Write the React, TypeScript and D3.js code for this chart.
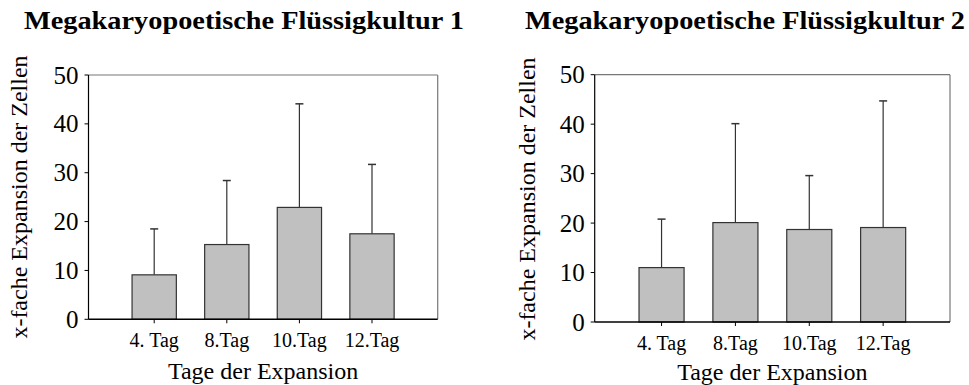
import React from "react";
import * as d3 from "d3";

const categories = ["4. Tag", "8.Tag", "10.Tag", "12.Tag"];
const titles = ["Megakaryopoetische Flüssigkultur 1", "Megakaryopoetische Flüssigkultur 2"];
const means1 = [9.1, 15.3, 22.9, 17.5];
const upper1 = [18.5, 28.4, 44.1, 31.7];
const means2 = [11.0, 20.1, 18.7, 19.1];
const upper2 = [20.8, 40.1, 29.6, 44.7];
const yTicks = [0, 10, 20, 30, 40, 50];
const yLabel = "x-fache Expansion der Zellen";
const xLabel = "Tage der Expansion";

const W = 969;
const H = 385;
const FONT = "'Liberation Serif', 'Times New Roman', serif";

type PanelProps = {
  title: string;
  means: number[];
  upper: number[];
  x0: number;
  x1: number;
  yTop: number;
  yBottom: number;
  titleX: number;
  yLabelX: number;
  yLabelY: number;
  tickLabelBase: number;
  xLabelBase: number;
};

function Panel(p: PanelProps) {
  const x = d3
    .scaleBand<string>()
    .domain(categories)
    .range([p.x0, p.x1])
    .paddingInner(0.39)
    .paddingOuter(0.6);
  const y = d3.scaleLinear().domain([0, 50]).range([p.yBottom, p.yTop]);
  const bw = x.bandwidth();
  return (
    <g>
      <text
        x={p.titleX}
        y={28.5}
        textAnchor="middle"
        fontFamily={FONT}
        fontWeight="bold"
        fontSize={25}
        textLength={440}
        lengthAdjust="spacingAndGlyphs"
        fill="#000"
      >
        {p.title}
      </text>
      {/* frame top/right */}
      <line x1={p.x0} x2={p.x1} y1={p.yTop} y2={p.yTop} stroke="#777" strokeWidth={1.2} />
      <line x1={p.x1} x2={p.x1} y1={p.yTop} y2={p.yBottom} stroke="#777" strokeWidth={1.2} />
      {/* bars */}
      {categories.map((c, i) => {
        const cx = (x(c) as number) + bw / 2;
        return (
          <g key={c}>
            <line x1={cx} x2={cx} y1={y(p.means[i])} y2={y(p.upper[i])} stroke="#333" strokeWidth={1.2} />
            <line x1={cx - 4} x2={cx + 4} y1={y(p.upper[i])} y2={y(p.upper[i])} stroke="#333" strokeWidth={1.5} />
            <rect
              x={x(c)}
              y={y(p.means[i])}
              width={bw}
              height={p.yBottom - y(p.means[i])}
              fill="#c0c0c0"
              stroke="#333"
              strokeWidth={1.2}
            />
            <line x1={cx} x2={cx} y1={p.yBottom} y2={p.yBottom + 4} stroke="#000" strokeWidth={1} />
            <text
              x={cx}
              y={p.tickLabelBase}
              textAnchor="middle"
              fontFamily={FONT}
              fontSize={20}
              fill="#000"
            >
              {c}
            </text>
          </g>
        );
      })}
      {/* axes */}
      <line x1={p.x0} x2={p.x0} y1={p.yTop} y2={p.yBottom} stroke="#000" strokeWidth={1.2} />
      <line x1={p.x0} x2={p.x1} y1={p.yBottom} y2={p.yBottom} stroke="#000" strokeWidth={1.4} />
      {yTicks.map((t) => (
        <g key={t}>
          <line x1={p.x0 - 4} x2={p.x0} y1={y(t)} y2={y(t)} stroke="#000" strokeWidth={1} />
          <text
            x={p.x0 - 10}
            y={y(t)}
            dy="0.34em"
            textAnchor="end"
            fontFamily={FONT}
            fontSize={25}
            fill="#000"
          >
            {t}
          </text>
        </g>
      ))}
      <text
        x={(p.x0 + p.x1) / 2}
        y={p.xLabelBase}
        textAnchor="middle"
        fontFamily={FONT}
        fontSize={24}
        fill="#000"
      >
        {xLabel}
      </text>
      <text
        transform={`translate(${p.yLabelX},${p.yLabelY}) rotate(-90)`}
        textAnchor="middle"
        fontFamily={FONT}
        fontSize={24}
        fill="#000"
      >
        {yLabel}
      </text>
    </g>
  );
}

export default function App() {
  return (
    <svg width={W} height={H} style={{ position: "absolute", left: 0, top: 0, background: "#fff" }}>
      <rect width={W} height={H} fill="#fff" />
      <Panel
        title={titles[0]}
        means={means1}
        upper={upper1}
        x0={88.5}
        x1={437.7}
        yTop={75}
        yBottom={319.3}
        titleX={244}
        yLabelX={27}
        yLabelY={197}
        tickLabelBase={346.5}
        xLabelBase={379}
      />
      <Panel
        title={titles[1]}
        means={means2}
        upper={upper2}
        x0={594.7}
        x1={950}
        yTop={74.7}
        yBottom={322}
        titleX={745}
        yLabelX={535}
        yLabelY={199}
        tickLabelBase={350}
        xLabelBase={380}
      />
    </svg>
  );
}
